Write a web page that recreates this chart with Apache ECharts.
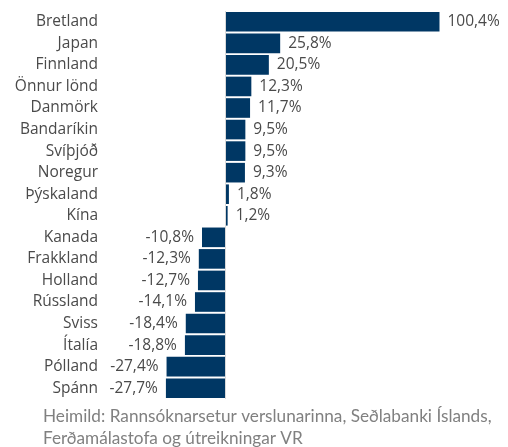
<!DOCTYPE html>
<html>
<head>
<meta charset="utf-8">
<script src="https://cdn.jsdelivr.net/npm/echarts@6/dist/echarts.min.js"></script>
<style>
  html, body { margin: 0; padding: 0; background: #fff; }
  #chart { width: 508px; height: 447px; }
</style>
</head>
<body>
<div id="chart"></div>
<script>
const countries = ['Bretland', 'Japan', 'Finnland', 'Önnur lönd', 'Danmörk', 'Bandaríkin', 'Svíþjóð', 'Noregur', 'Þýskaland', 'Kína',
  'Kanada', 'Frakkland', 'Holland', 'Rússland', 'Sviss', 'Ítalía', 'Pólland', 'Spánn']
const changes = [100.4, 25.8, 20.5, 12.3, 11.7, 9.5, 9.5, 9.3, 1.8, 1.2,
  -10.8, -12.3, -12.7, -14.1, -18.4, -18.8, -27.4, -27.7]
const sourceLines = ['Heimild: Rannsóknarsetur verslunarinna, Seðlabanki Íslands,', 'Ferðamálastofa og útreikningar VR']

const fmt = v => v.toFixed(1).replace('.', ',') + '%'

const chart = echarts.init(document.getElementById('chart'))

// neikvæð gildi fá merki vinstra megin við súluna
const barData = changes.map(v => ({
  value: v,
  label: { position: v < 0 ? 'left' : 'right' }
}))

chart.setOption({
  animation: false,
  grid: { left: 161, right: 48, top: 11, bottom: 48 },
  xAxis: {
    type: 'value',
    min: -30,
    max: 110,
    show: false
  },
  yAxis: {
    type: 'category',
    data: countries,
    inverse: true,
    axisLine: { show: false, onZero: false },
    axisTick: { show: false },
    axisLabel: {
      margin: 63,
      color: '#4a4a4a',
      fontSize: 15.5,
      fontFamily: 'Open Sans'
    }
  },
  series: [{
    type: 'bar',
    data: barData,
    barCategoryGap: '9%',
    itemStyle: { color: '#003764' },
    label: {
      show: true,
      distance: 8,
      color: '#4a4a4a',
      fontSize: 15.5,
      fontFamily: 'Open Sans',
      formatter: p => fmt(p.value)
    },
    markLine: {
      silent: true,
      symbol: 'none',
      label: { show: false },
      lineStyle: { color: '#d9d9d9', width: 1, type: 'solid' },
      data: [{ xAxis: 0 }]
    }
  }],
  graphic: [{
    type: 'text',
    left: 43,
    top: 405,
    style: {
      text: sourceLines.join('\n'),
      fill: '#808080',
      fontSize: 17.2,
      lineHeight: 22,
      fontFamily: 'Lato'
    }
  }]
})
</script>
</body>
</html>
